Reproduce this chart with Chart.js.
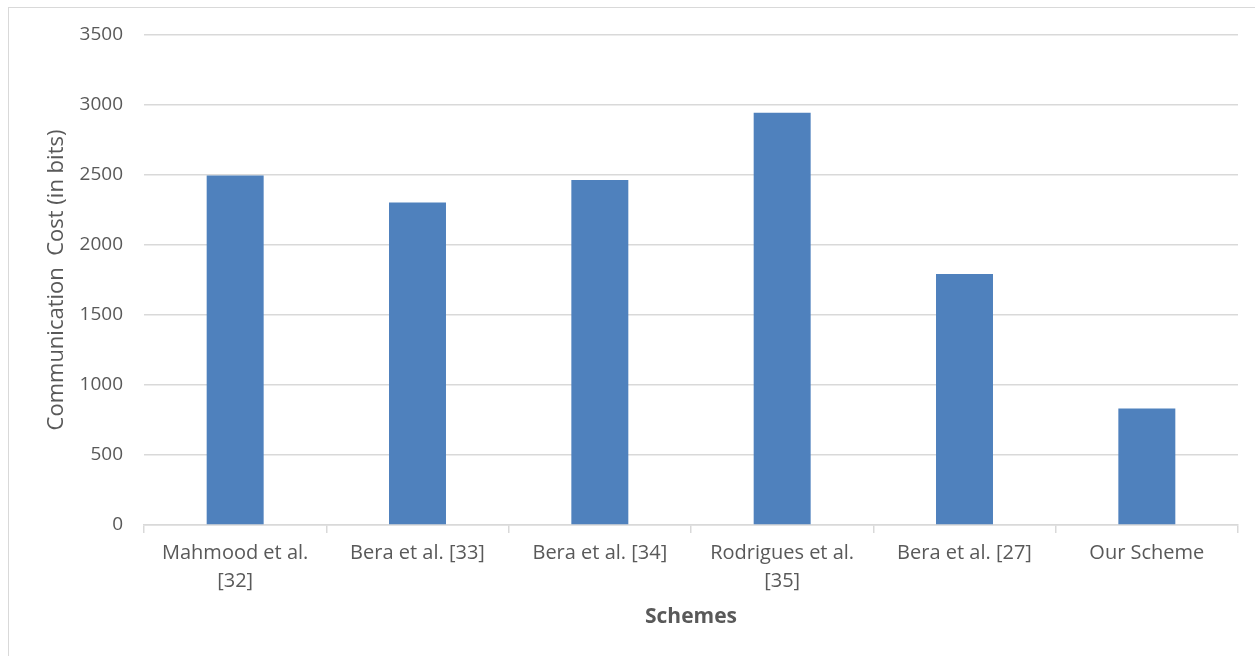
<!DOCTYPE html>
<html>
<head>
<meta charset="utf-8">
<script src="https://cdn.jsdelivr.net/npm/chart.js@4.4.1/dist/chart.umd.min.js"></script>
<style>
    body { margin: 0; background: #ffffff; overflow: hidden; }
    #frame { position: absolute; left: 8px; top: 7px; width: 1400px; height: 800px; border: 1px solid #d9d9d9; }
    #wrap { position: absolute; left: 0; top: 0; width: 1255px; height: 656px; }
</style>
</head>
<body>
<div id="frame"></div>
<div id="wrap"><canvas id="costChart" width="1255" height="656"></canvas></div>
<script>
// Communication cost per scheme (bits)
const schemes = [
    ['Mahmood et al.', '[32]'],
    'Bera et al. [33]',
    'Bera et al. [34]',
    ['Rodrigues et al.', '[35]'],
    'Bera et al. [27]',
    'Our Scheme'
];
const costBits = [2496, 2304, 2464, 2944, 1792, 832];
const yTicks = [0, 500, 1000, 1500, 2000, 2500, 3000, 3500];

const axisGrey = '#595959';
const lineGrey = '#d9d9d9';

new Chart(document.getElementById('costChart').getContext('2d'), {
    type: 'bar',
    data: {
        labels: schemes,
        datasets: [{
            label: 'Communication Cost',
            data: costBits,
            backgroundColor: '#4f81bd',
            borderWidth: 0,
            barPercentage: 0.625,
            categoryPercentage: 0.5
        }]
    },
    options: {
        responsive: false,
        animation: false,
        layout: { padding: { top: 35, right: 17, left: 0, bottom: 0 } },
        plugins: {
            legend: { display: false },
            tooltip: { enabled: false }
        },
        scales: {
            x: {
                afterFit: (scale) => { scale.height = 131; },
                grid: {
                    offset: true,
                    drawOnChartArea: false,
                    drawTicks: true,
                    tickLength: 8,
                    color: lineGrey,
                    lineWidth: 1.5
                },
                border: { color: lineGrey, width: 1.5 },
                ticks: {
                    color: axisGrey,
                    font: { family: 'Open Sans', size: 20, lineHeight: 1.4 },
                    padding: 6,
                    maxRotation: 0,
                    autoSkip: false
                },
                title: {
                    display: true,
                    text: 'Schemes',
                    color: axisGrey,
                    font: { family: 'Open Sans', size: 21, weight: 'bold', lineHeight: 1.2 },
                    padding: { top: 0, bottom: 26 }
                }
            },
            y: {
                min: 0,
                max: 3500,
                afterFit: (scale) => { scale.width = 144; },
                afterBuildTicks: (scale) => { scale.ticks = yTicks.map(v => ({ value: v })); },
                grid: {
                    color: lineGrey,
                    lineWidth: 1.5,
                    drawTicks: false
                },
                border: { display: false },
                ticks: {
                    color: axisGrey,
                    font: { family: 'Open Sans', size: 19 },
                    padding: 21,
                    callback: (value) => String(value)
                },
                title: {
                    display: true,
                    text: 'Communication  Cost (in bits)',
                    color: axisGrey,
                    font: { family: 'Open Sans', size: 22, lineHeight: 1.2 },
                    padding: { top: 44, bottom: 0 }
                }
            }
        }
    }
});
</script>
</body>
</html>
